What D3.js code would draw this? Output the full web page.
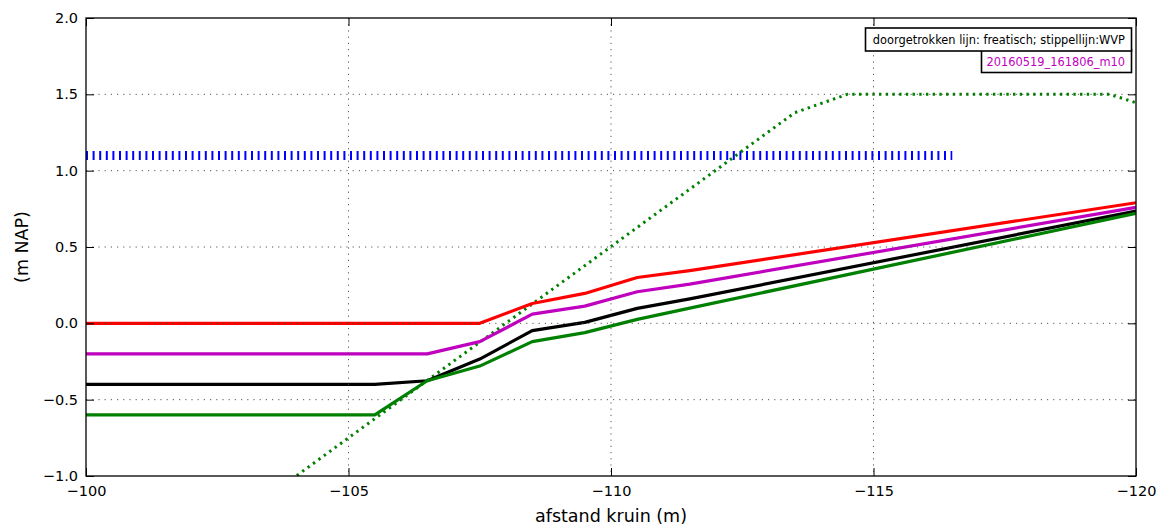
<!DOCTYPE html>
<html>
<head>
<meta charset="utf-8">
<script src="https://cdn.jsdelivr.net/npm/d3@7"></script>
<style>
  body { margin: 0; background: #fff; }
  text { font-family: "DejaVu Sans", sans-serif; }
</style>
</head>
<body>
<script>
// afstand (m) en niveau (m NAP) per lijn
const redDist = [-100, -107.5, -108.5, -109.5, -110.5, -111.5, -120];
const redLevel = [0, 0, 0.13, 0.196, 0.30, 0.345, 0.79];
const magDist = [-100, -106.5, -107.5, -108.5, -109.5, -110.5, -111.5, -120];
const magLevel = [-0.2, -0.2, -0.12, 0.06, 0.113, 0.207, 0.257, 0.76];
const blackDist = [-100, -105.5, -106.5, -107.5, -108.5, -109.5, -110.5, -111.5, -120];
const blackLevel = [-0.4, -0.4, -0.376, -0.234, -0.048, 0.006, 0.098, 0.16, 0.735];
const greenDist = [-100, -105.5, -106.5, -107.5, -108.5, -109.5, -110.5, -111.5, -120];
const greenLevel = [-0.6, -0.6, -0.376, -0.28, -0.12, -0.061, 0.026, 0.1, 0.72];
const wvpGreenDist = [-103.5, -113.5, -114.5, -119.5, -120];
const wvpGreenLevel = [-1.126, 1.38, 1.5, 1.5, 1.445];
const wvpBlueDist = [-100, -116.5];
const wvpBlueLevel = [1.1, 1.1];

const xTicks = [-100, -105, -110, -115, -120];
const yTicks = [-1.0, -0.5, 0.0, 0.5, 1.0, 1.5, 2.0];
const legendTitle = 'doorgetrokken lijn: freatisch; stippellijn:WVP';
const legendName = '20160519_161806_m10';

const W = 1163, H = 527;
const margin = { top: 18, right: 27, bottom: 51, left: 86 };
const w = W - margin.left - margin.right;
const h = H - margin.top - margin.bottom;

const svg = d3.select('body').append('svg')
  .attr('width', W)
  .attr('height', H);

const x = d3.scaleLinear().domain([-100, -120]).range([0, w]);
const y = d3.scaleLinear().domain([-1, 2]).range([h, 0]);

const g = svg.append('g').attr('transform', `translate(${margin.left},${margin.top})`);

g.append('clipPath').attr('id', 'clip')
  .append('rect').attr('width', w).attr('height', h);

const line = d3.line().x(d => x(d[0])).y(d => y(d[1]));
const zip = (a, b) => a.map((v, i) => [v, b[i]]);

const plot = g.append('g').attr('clip-path', 'url(#clip)');

const series = [
  { pts: zip(wvpBlueDist, wvpBlueLevel), color: '#0000ff', width: 9, dash: '2,4.6' },
  { pts: zip(wvpGreenDist, wvpGreenLevel), color: '#008000', width: 3, dash: '2.4,4.3' },
  { pts: zip(redDist, redLevel), color: '#ff0000', width: 3.2 },
  { pts: zip(magDist, magLevel), color: '#bf00bf', width: 3.2 },
  { pts: zip(blackDist, blackLevel), color: '#000000', width: 3.2 },
  { pts: zip(greenDist, greenLevel), color: '#008000', width: 3.2 }
];

plot.selectAll('.series')
  .data(series)
  .enter()
  .append('path')
  .attr('class', 'series')
  .attr('d', d => line(d.pts))
  .attr('fill', 'none')
  .attr('stroke', d => d.color)
  .attr('stroke-width', d => d.width)
  .attr('stroke-dasharray', d => d.dash || null)
  .attr('stroke-linejoin', 'round');

// grid boven de lijnen (klassieke matplotlib stijl)
const grid = g.append('g').attr('class', 'grid');
grid.selectAll('.gx').data(xTicks.slice(1, -1)).enter().append('line')
  .attr('x1', d => x(d)).attr('x2', d => x(d))
  .attr('y1', 0).attr('y2', h)
  .attr('stroke', '#444').attr('stroke-width', 0.9).attr('stroke-dasharray', '1.2,5');
grid.selectAll('.gy').data(yTicks.slice(1, -1)).enter().append('line')
  .attr('y1', d => y(d)).attr('y2', d => y(d))
  .attr('x1', 0).attr('x2', w)
  .attr('stroke', '#444').attr('stroke-width', 0.9).attr('stroke-dasharray', '1.2,5');

// assen met tickjes naar binnen
const xAxis = d3.axisBottom(x).tickValues(xTicks).tickFormat(d3.format('d')).tickSizeInner(-8).tickSizeOuter(0).tickPadding(10);
const yAxis = d3.axisLeft(y).tickValues(yTicks).tickFormat(d3.format('.1f')).tickSizeInner(-8).tickSizeOuter(0).tickPadding(8);

const xAxisG = g.append('g').attr('transform', `translate(0,${h})`).call(xAxis);
const yAxisG = g.append('g').call(yAxis);
g.append('g').call(d3.axisTop(x).tickValues(xTicks).tickFormat('').tickSizeInner(-8).tickSizeOuter(0));
g.append('g').attr('transform', `translate(${w},0)`).call(d3.axisRight(y).tickValues(yTicks).tickFormat('').tickSizeInner(-8).tickSizeOuter(0));

g.selectAll('.domain').remove();
g.selectAll('.tick line').attr('stroke', '#000').attr('stroke-width', 1);
[xAxisG, yAxisG].forEach(a => a.selectAll('text')
  .style('font-family', '"DejaVu Sans", sans-serif')
  .style('font-size', '14.5px')
  .attr('fill', '#000'));

g.append('rect')
  .attr('width', w).attr('height', h)
  .attr('fill', 'none').attr('stroke', '#000').attr('stroke-width', 1.3);

// aslabels
svg.append('text')
  .attr('x', margin.left + w / 2)
  .attr('y', 522)
  .attr('text-anchor', 'middle')
  .style('font-size', '17.5px')
  .text('afstand kruin (m)');

svg.append('text')
  .attr('transform', `translate(28,${margin.top + h / 2}) rotate(-90)`)
  .attr('text-anchor', 'middle')
  .style('font-size', '17.5px')
  .text('(m NAP)');

// legenda
const leg = svg.append('g');
leg.append('rect')
  .attr('x', 981.5).attr('y', 49.5).attr('width', 150).attr('height', 23)
  .attr('fill', '#fff').attr('stroke', '#000').attr('stroke-width', 1.6);
leg.append('text')
  .attr('x', 1125).attr('y', 65.5)
  .attr('text-anchor', 'end')
  .attr('fill', '#bf00bf')
  .style('font-size', '11.4px')
  .text(legendName);
leg.append('rect')
  .attr('x', 865.5).attr('y', 28).attr('width', 266).attr('height', 23)
  .attr('fill', '#fff').attr('stroke', '#000').attr('stroke-width', 1.6);
leg.append('text')
  .attr('x', 1125).attr('y', 44)
  .attr('text-anchor', 'end')
  .style('font-size', '11.4px')
  .text(legendTitle);
</script>
</body>
</html>
